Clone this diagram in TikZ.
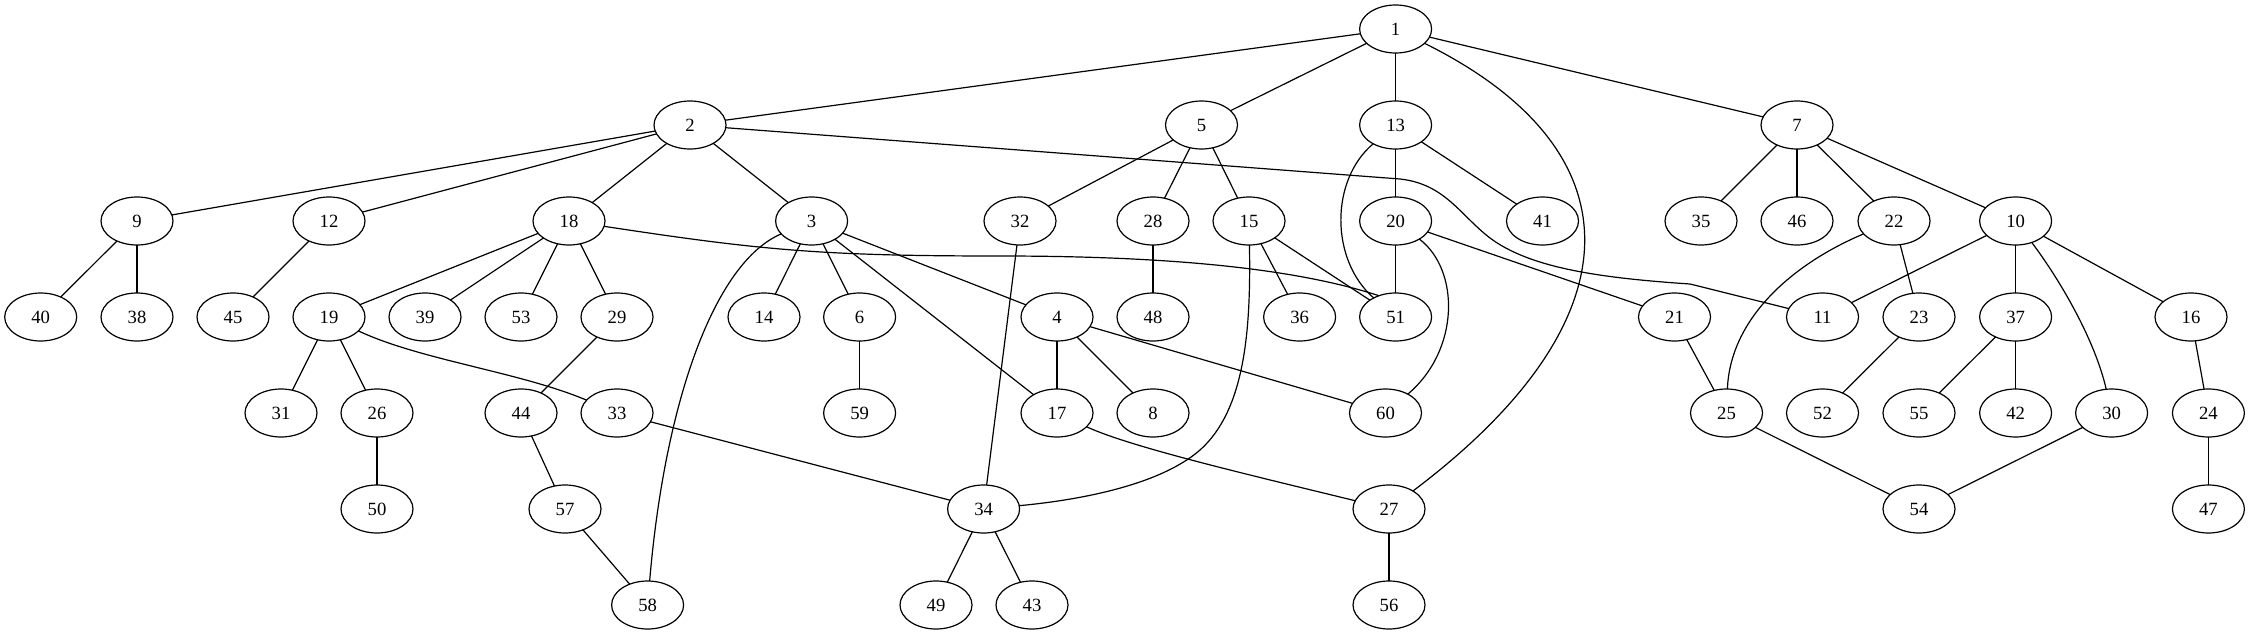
\documentclass[tikz,border=0pt]{standalone}
\usepackage{fontspec}
\setmainfont{Liberation Serif}
\usetikzlibrary{shapes.geometric}
\begin{document}
\begin{tikzpicture}[x=0.75pt,y=-0.75pt,
  vtx/.style={ellipse,draw,line width=0.9pt,minimum width=54pt,minimum height=36pt,inner sep=0pt,outer sep=0pt,font=\fontsize{14}{16}\selectfont},
  conn/.style={line width=0.9pt}]
\useasboundingbox (0,0) rectangle (2248,635);
% row 1
\node[vtx] (n1) at (1395.6,29) {1};
% row 2
\node[vtx] (n2) at (690,125) {2};
\node[vtx] (n5) at (1201.5,125) {5};
\node[vtx] (n13) at (1395.6,125) {13};
\node[vtx] (n7) at (1797,125) {7};
% row 3
\node[vtx] (n9) at (137,221) {9};
\node[vtx] (n12) at (329,221) {12};
\node[vtx] (n18) at (569,221) {18};
\node[vtx] (n3) at (811.6,221) {3};
\node[vtx] (n32) at (1020,221) {32};
\node[vtx] (n28) at (1153,221) {28};
\node[vtx] (n15) at (1249,221) {15};
\node[vtx] (n20) at (1395.6,221) {20};
\node[vtx] (n41) at (1542.5,221) {41};
\node[vtx] (n35) at (1701,221) {35};
\node[vtx] (n46) at (1797,221) {46};
\node[vtx] (n22) at (1894,221) {22};
\node[vtx] (n10) at (2015.6,221) {10};
% row 4
\node[vtx] (n40) at (40.7,317) {40};
\node[vtx] (n38) at (137,317) {38};
\node[vtx] (n45) at (233,317) {45};
\node[vtx] (n19) at (329,317) {19};
\node[vtx] (n39) at (425,317) {39};
\node[vtx] (n53) at (521,317) {53};
\node[vtx] (n29) at (617,317) {29};
\node[vtx] (n14) at (764,317) {14};
\node[vtx] (n6) at (859.6,317) {6};
\node[vtx] (n4) at (1057,317) {4};
\node[vtx] (n48) at (1153,317) {48};
\node[vtx] (n36) at (1299.6,317) {36};
\node[vtx] (n51) at (1395.6,317) {51};
\node[vtx] (n21) at (1674.5,317) {21};
\node[vtx] (n11) at (1822.5,317) {11};
\node[vtx] (n23) at (1919,317) {23};
\node[vtx] (n37) at (2015.6,317) {37};
\node[vtx] (n16) at (2191,317) {16};
% row 5
\node[vtx] (n31) at (281,413) {31};
\node[vtx] (n26) at (377,413) {26};
\node[vtx] (n44) at (521,413) {44};
\node[vtx] (n33) at (617,413) {33};
\node[vtx] (n59) at (859.6,413) {59};
\node[vtx] (n17) at (1057,413) {17};
\node[vtx] (n8) at (1153,413) {8};
\node[vtx] (n60) at (1385.5,413) {60};
\node[vtx] (n25) at (1726.5,413) {25};
\node[vtx] (n52) at (1822.5,413) {52};
\node[vtx] (n55) at (1919,413) {55};
\node[vtx] (n42) at (2015.6,413) {42};
\node[vtx] (n30) at (2111.6,413) {30};
\node[vtx] (n24) at (2208.4,413) {24};
% row 6
\node[vtx] (n50) at (377,509) {50};
\node[vtx] (n57) at (565,509) {57};
\node[vtx] (n34) at (983.6,509) {34};
\node[vtx] (n27) at (1389,509) {27};
\node[vtx] (n54) at (1919,509) {54};
\node[vtx] (n47) at (2208.4,509) {47};
% row 7
\node[vtx] (n58) at (647.6,605) {58};
\node[vtx] (n49) at (936,605) {49};
\node[vtx] (n43) at (1032,605) {43};
\node[vtx] (n56) at (1389,605) {56};

% straight edges
\draw[conn] (n1) -- (n2);
\draw[conn] (n1) -- (n5);
\draw[conn] (n1) -- (n13);
\draw[conn] (n1) -- (n7);
\draw[conn] (n2) -- (n9);
\draw[conn] (n2) -- (n12);
\draw[conn] (n2) -- (n18);
\draw[conn] (n2) -- (n3);
\draw[conn] (n5) -- (n32);
\draw[conn] (n5) -- (n28);
\draw[conn] (n5) -- (n15);
\draw[conn] (n13) -- (n20);
\draw[conn] (n13) -- (n41);
\draw[conn] (n7) -- (n35);
\draw[conn] (n7) -- (n46);
\draw[conn] (n7) -- (n22);
\draw[conn] (n7) -- (n10);
\draw[conn] (n9) -- (n40);
\draw[conn] (n9) -- (n38);
\draw[conn] (n12) -- (n45);
\draw[conn] (n18) -- (n19);
\draw[conn] (n18) -- (n39);
\draw[conn] (n18) -- (n53);
\draw[conn] (n18) -- (n29);
\draw[conn] (n3) -- (n14);
\draw[conn] (n3) -- (n6);
\draw[conn] (n3) -- (n4);
\draw[conn] (n3) -- (n17);
\draw[conn] (n32) -- (n34);
\draw[conn] (n28) -- (n48);
\draw[conn] (n15) -- (n36);
\draw[conn] (n15) -- (n51);
\draw[conn] (n20) -- (n51);
\draw[conn] (n20) -- (n21);
\draw[conn] (n22) -- (n23);
\draw[conn] (n10) -- (n11);
\draw[conn] (n10) -- (n37);
\draw[conn] (n10) -- (n16);
\draw[conn] (n19) -- (n31);
\draw[conn] (n19) -- (n26);
\draw[conn] (n29) -- (n44);
\draw[conn] (n6) -- (n59);
\draw[conn] (n4) -- (n17);
\draw[conn] (n4) -- (n8);
\draw[conn] (n4) -- (n60);
\draw[conn] (n21) -- (n25);
\draw[conn] (n23) -- (n52);
\draw[conn] (n37) -- (n55);
\draw[conn] (n37) -- (n42);
\draw[conn] (n16) -- (n24);
\draw[conn] (n26) -- (n50);
\draw[conn] (n44) -- (n57);
\draw[conn] (n33) -- (n34);
\draw[conn] (n25) -- (n54);
\draw[conn] (n30) -- (n54);
\draw[conn] (n24) -- (n47);
\draw[conn] (n57) -- (n58);
\draw[conn] (n34) -- (n49);
\draw[conn] (n34) -- (n43);
\draw[conn] (n27) -- (n56);

% curved edges
\draw[conn] (n1) .. controls (1640,150) and (1640,320) .. (n27);
\draw[conn] (n2) -- (1400,179) .. controls (1445,184) and (1460,215) .. (1490,238) .. controls (1530,268) and (1600,278) .. (1690,284) -- (n11);
\draw[conn] (n18) .. controls (760,250) and (820,256) .. (1000,256) .. controls (1180,256) and (1300,270) .. (n51.128);
\draw[conn] (n13) .. controls (1330,180) and (1330,260) .. (n51);
\draw[conn] (n20) .. controls (1460,270) and (1460,350) .. (n60);
\draw[conn] (n15) .. controls (1251,330) and (1245,410) .. (1200,450) .. controls (1160,485) and (1080,500) .. (n34);
\draw[conn] (n3) .. controls (715,262) and (665,400) .. (n58);
\draw[conn] (n19) .. controls (420,360) and (520,372) .. (n33);
\draw[conn] (n22) .. controls (1790,265) and (1730,320) .. (n25);
\draw[conn] (n10) .. controls (2060,280) and (2095,340) .. (n30);
\draw[conn] (n17) .. controls (1130,447) and (1250,475) .. (n27);
\end{tikzpicture}
\end{document}
